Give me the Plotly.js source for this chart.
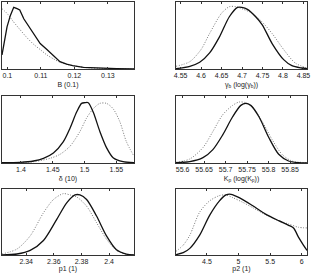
<!DOCTYPE html>
<html><head><meta charset="utf-8">
<script src="https://cdn.plot.ly/plotly-3.0.1.min.js"></script>
<style>html,body{margin:0;padding:0;background:#fff;}#chart{width:316px;height:273px;}</style>
</head><body><div id="chart"></div>
<script>
// Panel 1: B (0.1)
const p1SolidX = [0.0984,0.0999,0.1009,0.1019,0.1029,0.1037,0.1049,0.1058,0.1078,0.1098,0.1118,0.1138,0.1157,0.1177,0.1195,0.1227,0.1276,0.1326,0.1378];
const p1SolidY = [0.21,0.63,0.80,0.92,0.90,0.88,0.75,0.68,0.53,0.38,0.29,0.19,0.11,0.074,0.05,0.025,0.01,0.005,0.0];
const p1DotX = [0.0984,0.0999,0.1019,0.1039,0.1058,0.1078,0.1098,0.1118,0.1138,0.1157,0.1177,0.1207,0.1237,0.1276,0.1326,0.1378];
const p1DotY = [0.90,0.83,0.70,0.58,0.47,0.37,0.29,0.21,0.15,0.10,0.07,0.04,0.02,0.01,0.003,0.0];
const p1Ticks = [0.1,0.11,0.12,0.13];
const p1Range = [0.0984,0.1378];

// Panel 2: gamma_b
const p2SolidX = [4.5387,4.5725,4.5966,4.6208,4.6449,4.6690,4.6891,4.6995,4.7132,4.7333,4.7494,4.7735,4.8017,4.8218,4.8459,4.8587];
const p2SolidY = [0.005,0.04,0.10,0.24,0.48,0.78,0.92,0.92,0.89,0.78,0.66,0.38,0.14,0.05,0.015,0.005];
const p2DotX = [4.5387,4.5725,4.5998,4.6208,4.6497,4.6690,4.6851,4.6995,4.7253,4.7494,4.7735,4.8017,4.8298,4.8587];
const p2DotY = [0.04,0.11,0.29,0.53,0.83,0.93,0.93,0.90,0.83,0.70,0.53,0.29,0.09,0.015];
const p2Ticks = [4.55,4.6,4.65,4.7,4.75,4.8,4.85];
const p2Range = [4.5387,4.8587];

// Panel 3: delta (10)
const p3SolidX = [1.3703,1.3990,1.4198,1.4354,1.4510,1.4667,1.4771,1.4875,1.4953,1.5005,1.5057,1.5135,1.5240,1.5344,1.5448,1.5604,1.5776];
const p3SolidY = [0.005,0.01,0.03,0.07,0.15,0.32,0.52,0.76,0.89,0.90,0.90,0.76,0.47,0.23,0.08,0.02,0.005];
const p3DotX = [1.3703,1.4198,1.4458,1.4615,1.4771,1.4927,1.5031,1.5135,1.5240,1.5344,1.5448,1.5552,1.5656,1.5776];
const p3DotY = [0.005,0.02,0.07,0.13,0.25,0.47,0.67,0.81,0.89,0.89,0.81,0.62,0.32,0.10];
const p3Ticks = [1.4,1.45,1.5,1.55];
const p3Range = [1.3703,1.5776];

// Panel 4: K_p
const p4SolidX = [55.5847,55.6168,55.6474,55.6704,55.6933,55.7163,55.7354,55.7469,55.7584,55.7775,55.8004,55.8234,55.8463,55.8693,55.8892];
const p4SolidY = [0.005,0.02,0.08,0.20,0.42,0.69,0.86,0.89,0.86,0.69,0.38,0.13,0.03,0.005,0.0];
const p4DotX = [55.5847,55.6168,55.6474,55.6704,55.6933,55.7163,55.7316,55.7469,55.7622,55.7851,55.8081,55.8310,55.8540,55.8892];
const p4DotY = [0.01,0.06,0.23,0.47,0.72,0.86,0.91,0.90,0.84,0.62,0.35,0.13,0.03,0.005];
const p4Ticks = [55.6,55.65,55.7,55.75,55.8,55.85];
const p4Range = [55.5847,55.8892];

// Panel 5: p1 (1)
const p5SolidX = [2.3225,2.3333,2.3429,2.3525,2.3621,2.3693,2.3753,2.3789,2.3837,2.3909,2.3981,2.4053,2.4125,2.4180];
const p5SolidY = [0.0,0.015,0.07,0.22,0.54,0.79,0.91,0.91,0.84,0.59,0.29,0.08,0.015,0.0];
const p5DotX = [2.3225,2.3333,2.3429,2.3525,2.3597,2.3669,2.3717,2.3765,2.3837,2.3909,2.3981,2.4053,2.4125,2.4180];
const p5DotY = [0.015,0.09,0.29,0.64,0.84,0.93,0.91,0.88,0.74,0.49,0.24,0.07,0.01,0.003];
const p5Ticks = [2.34,2.36,2.38,2.4];
const p5Range = [2.3225,2.4180];

// Panel 6: p2 (1)
const p6SolidX = [4.0104,4.125,4.229,4.385,4.542,4.698,4.802,4.880,5.010,5.219,5.427,5.635,5.792,5.870,5.948,6.026,6.083];
const p6SolidY = [0.005,0.035,0.10,0.30,0.60,0.82,0.91,0.92,0.87,0.75,0.62,0.52,0.45,0.41,0.27,0.15,0.07];
const p6DotX = [4.0104,4.125,4.229,4.385,4.542,4.698,4.802,4.906,5.063,5.219,5.427,5.635,5.792,5.948,6.083];
const p6DotY = [0.055,0.15,0.30,0.65,0.82,0.90,0.91,0.87,0.80,0.72,0.61,0.52,0.47,0.42,0.41];
const p6Ticks = [4.5,5,5.5,6];
const p6Range = [4.0104,6.083];

const titles = ['B (0.1)', 'γ<sub>b</sub> (log(γ<sub>b</sub>))', 'δ (10)', 'K<sub>p</sub> (log(K<sub>p</sub>))', 'p1 (1)', 'p2 (1)'];

const panels = [
  {sx:p1SolidX, sy:p1SolidY, dx:p1DotX, dy:p1DotY, ticks:p1Ticks, range:p1Range},
  {sx:p2SolidX, sy:p2SolidY, dx:p2DotX, dy:p2DotY, ticks:p2Ticks, range:p2Range},
  {sx:p3SolidX, sy:p3SolidY, dx:p3DotX, dy:p3DotY, ticks:p3Ticks, range:p3Range},
  {sx:p4SolidX, sy:p4SolidY, dx:p4DotX, dy:p4DotY, ticks:p4Ticks, range:p4Range},
  {sx:p5SolidX, sy:p5SolidY, dx:p5DotX, dy:p5DotY, ticks:p5Ticks, range:p5Range},
  {sx:p6SolidX, sy:p6SolidY, dx:p6DotX, dy:p6DotY, ticks:p6Ticks, range:p6Range}
];

const W = 316, H = 273;
const colX = [[2,134],[176,307]];
const rowY = [[2,69],[96,163],[189,255]];

const traces = [];
const layout = {
  width: W, height: H,
  margin: {l:0, r:0, t:0, b:0},
  paper_bgcolor: '#fff', plot_bgcolor: '#fff',
  showlegend: false,
  font: {family: 'Liberation Sans, Arial, sans-serif', size: 7, color: '#222'}
};

panels.forEach((p, i) => {
  const n = i + 1;
  const xa = n === 1 ? 'x' : 'x' + n;
  const ya = n === 1 ? 'y' : 'y' + n;
  const c = colX[i % 2], r = rowY[Math.floor(i / 2)];
  traces.push({x: p.dx, y: p.dy, xaxis: xa, yaxis: ya, mode: 'lines', type: 'scatter',
    line: {color: '#777777', width: 1, dash: '1px,1.6px', shape: 'spline', smoothing: 0.8}, hoverinfo: 'skip'});
  traces.push({x: p.sx, y: p.sy, xaxis: xa, yaxis: ya, mode: 'lines', type: 'scatter',
    line: {color: '#111111', width: 1.3, shape: i === 0 ? 'linear' : 'spline', smoothing: 0.8}, hoverinfo: 'skip'});
  layout['xaxis' + (n === 1 ? '' : n)] = {
    domain: [c[0] / W, c[1] / W], anchor: ya, range: p.range,
    tickvals: p.ticks, ticktext: p.ticks.map(String),
    ticks: 'inside', ticklen: 2, tickcolor: '#333', tickwidth: 1,
    showline: true, linecolor: '#333', linewidth: 1, mirror: 'allticks',
    showgrid: false, zeroline: false,
    tickfont: {size: 7, color: '#222'},
    title: {text: titles[i], font: {size: 7, color: '#222'}, standoff: 3}
  };
  layout['yaxis' + (n === 1 ? '' : n)] = {
    domain: [1 - r[1] / H, 1 - r[0] / H], anchor: xa, range: [0, 1],
    showticklabels: false, ticks: '', showline: true, linecolor: '#333', linewidth: 1,
    mirror: true, showgrid: false, zeroline: false
  };
});

Plotly.newPlot('chart', traces, layout, {staticPlot: true, displayModeBar: false});
</script>
</body></html>
